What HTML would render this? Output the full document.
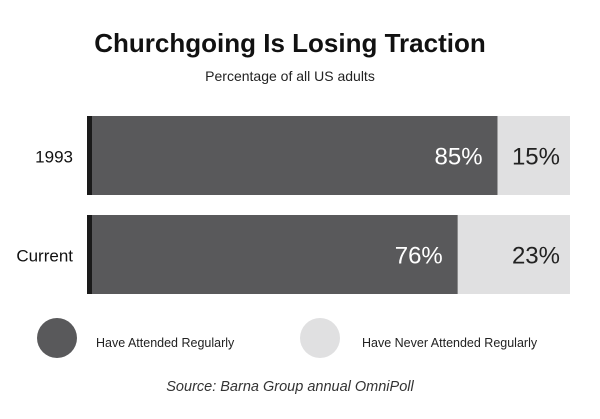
<!DOCTYPE html>
<html><head><meta charset="utf-8"><style>
body{margin:0;background:#fff;}
svg{display:block;font-family:"Liberation Sans",Arial,sans-serif;}
</style></head><body>
<svg width="600" height="419" viewBox="0 0 600 419">
<text x="290" y="52" text-anchor="middle" font-size="26" font-weight="bold" fill="#111">Churchgoing Is Losing Traction</text>
<text x="290" y="81" text-anchor="middle" font-size="14" fill="#222">Percentage of all US adults</text>
<g id="bars"></g>
<circle cx="57" cy="338" r="20" fill="#59595b"/>
<text x="96" y="347" font-size="12.5" fill="#222">Have Attended Regularly</text>
<circle cx="320" cy="338" r="20" fill="#e0e0e1"/>
<text x="362" y="347" font-size="12.5" fill="#222">Have Never Attended Regularly</text>
<text x="290" y="391" text-anchor="middle" font-size="14.5" font-style="italic" fill="#333">Source: Barna Group annual OmniPoll</text>
</svg>
<script>
const categories = ["1993", "Current"];
const attended = [85, 76];
const never = [15, 23];
const ns = "http://www.w3.org/2000/svg";
const g = document.getElementById("bars");
const x0 = 87, x1 = 570;
const rowTop = [116, 215], barH = 79;
function mk(tag, attrs){const e=document.createElementNS(ns,tag);for(const k in attrs)e.setAttribute(k,attrs[k]);g.appendChild(e);return e;}
categories.forEach((c,i)=>{
  const total = attended[i] + never[i];
  const xs = v => x0 + v / total * (x1 - x0);
  const y = rowTop[i];
  const xa = xs(attended[i]);
  const b1 = mk("rect",{x:x0,y:y,width:xa-x0,height:barH,fill:"#59595b"});
  
  
  const b2 = mk("rect",{x:xa,y:y,width:x1-xa,height:barH,fill:"#e0e0e1"});
  
  
  const edge = mk("rect",{x:x0,y:y,width:5,height:barH,fill:"#1a1a1a"});
  
  
  const cy = y + barH/2 + 9;
  const lab = mk("text",{x:73,y:cy-2,"text-anchor":"end","font-size":"17",fill:"#111"});
  lab.textContent = c;
  
  
  const t1 = mk("text",{x:xa-15,y:cy,"text-anchor":"end","font-size":"24",fill:"#fff"});
  t1.textContent = attended[i] + "%";
  
  
  const t2 = mk("text",{x:560,y:cy,"text-anchor":"end","font-size":"24",fill:"#222"});
  t2.textContent = never[i] + "%";
  
  
});
</script>
</body></html>
